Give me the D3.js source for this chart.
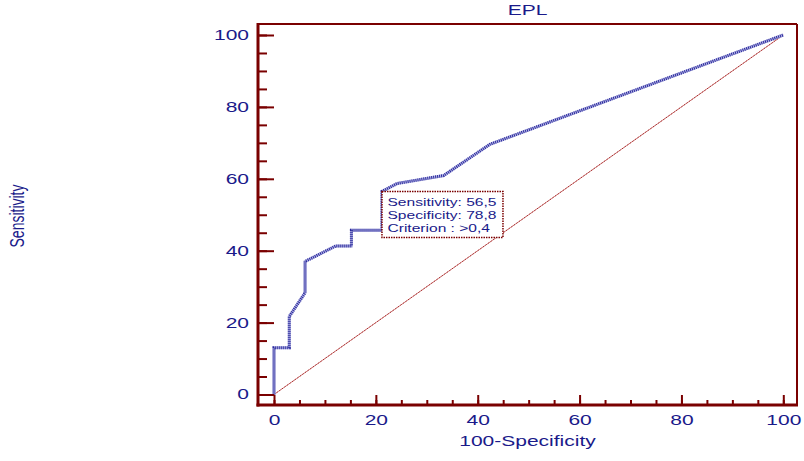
<!DOCTYPE html>
<html>
<head>
<meta charset="utf-8">
<script src="https://cdn.jsdelivr.net/npm/d3@7"></script>
<style>
  body { margin: 0; background: #fff; }
  svg { display: block; font-family: "Liberation Sans", Arial, sans-serif; }
</style>
</head>
<body>
<div id="chart"></div>
<script>
// ROC curve points (100-Specificity, Sensitivity)
const fpr = [0, 0, 3.0, 3.0, 6.1, 6.1, 12.1, 15.2, 15.2, 21.2, 21.2, 24.2, 33.3, 42.4, 100];
const tpr = [0, 13.0, 13.0, 21.7, 28.3, 37.0, 41.3, 41.3, 45.7, 45.7, 56.5, 58.7, 60.9, 69.6, 100];
const majorTicks = [0, 20, 40, 60, 80, 100];
const minorTicks = d3.range(0, 101, 5);
const criterion = { fpr: 21.2, tpr: 56.5, lines: ["Sensitivity: 56,5", "Specificity: 78,8", "Criterion : >0,4"] };
const title = "EPL";
const xTitle = "100-Specificity";
const yTitle = "Sensitivity";

const width = 804;
const height = 461;
const frame = { left: 258, right: 797, top: 24, bottom: 405 };
const navy = "#1a1a8a";
const maroon = "#7a0000";
const sx = 1.5; // the original graphic is stretched horizontally

const svg = d3.select("#chart").append("svg")
  .attr("width", width)
  .attr("height", height);

const x = d3.scaleLinear().domain([0, 100]).range([274, 783.3]);
const y = d3.scaleLinear().domain([0, 100]).range([394.5, 35]);

// diagonal reference line
svg.append("line")
  .attr("x1", x(0)).attr("y1", y(0))
  .attr("x2", x(100)).attr("y2", y(100))
  .attr("stroke", "#e0a0a0")
  .attr("stroke-width", 1);
svg.append("line")
  .attr("x1", x(0)).attr("y1", y(0))
  .attr("x2", x(100)).attr("y2", y(100))
  .attr("stroke", "#9a1010")
  .attr("stroke-width", 1)
  .attr("stroke-dasharray", "1,1");

// ROC curve
const pts = fpr.map((f, i) => [f, tpr[i]]);
const line = d3.line().x(d => x(d[0])).y(d => y(d[1]));
svg.append("path")
  .datum(pts)
  .attr("fill", "none")
  .attr("stroke", "#b8b8e6")
  .attr("stroke-width", 3)
  .attr("d", line);
svg.append("path")
  .datum(pts)
  .attr("fill", "none")
  .attr("stroke", "#2a2a9c")
  .attr("stroke-width", 3)
  .attr("stroke-dasharray", "1,1")
  .attr("d", line);

// axes: minor and major ticks pointing inward
const xAxisG = svg.append("g").attr("transform", `translate(0,${frame.bottom})`);
xAxisG.append("g")
  .call(d3.axisBottom(x).tickValues(minorTicks).tickSize(-5).tickFormat(""))
  .call(g => g.select(".domain").remove());
xAxisG.append("g")
  .call(d3.axisBottom(x).tickValues(majorTicks).tickSize(-10).tickPadding(10))
  .call(g => g.select(".domain").remove());
xAxisG.selectAll("line").attr("stroke", maroon).attr("stroke-width", 2);
xAxisG.selectAll("text")
  .attr("fill", navy)
  .attr("font-size", 14)
  .attr("transform", `scale(${sx},1)`);

const yAxisG = svg.append("g").attr("transform", `translate(${frame.left},0)`);
yAxisG.append("g")
  .call(d3.axisLeft(y).tickValues(minorTicks).tickSize(-9).tickFormat(""))
  .call(g => g.select(".domain").remove());
yAxisG.append("g")
  .call(d3.axisLeft(y).tickValues(majorTicks).tickSize(-16).tickPadding(6))
  .call(g => g.select(".domain").remove());
yAxisG.selectAll("line").attr("stroke", maroon).attr("stroke-width", 2);
yAxisG.selectAll("text")
  .attr("fill", navy)
  .attr("font-size", 14)
  .attr("transform", `scale(${sx},1)`);

// frame
svg.append("line")
  .attr("x1", frame.left).attr("x2", frame.right)
  .attr("y1", frame.top).attr("y2", frame.top)
  .attr("stroke", maroon).attr("stroke-width", 2);
svg.append("line")
  .attr("x1", frame.right).attr("x2", frame.right)
  .attr("y1", frame.top).attr("y2", frame.bottom)
  .attr("stroke", maroon).attr("stroke-width", 2);
svg.append("line")
  .attr("x1", frame.left).attr("x2", frame.left)
  .attr("y1", frame.top - 1).attr("y2", frame.bottom + 1.5)
  .attr("stroke", maroon).attr("stroke-width", 3);
svg.append("line")
  .attr("x1", frame.left - 1.5).attr("x2", frame.right + 1)
  .attr("y1", frame.bottom).attr("y2", frame.bottom)
  .attr("stroke", maroon).attr("stroke-width", 3);

// criterion box
const bx = x(criterion.fpr), by = y(criterion.tpr);
svg.append("rect")
  .attr("x", bx).attr("y", by)
  .attr("width", 121).attr("height", 46)
  .attr("fill", "#fff")
  .attr("stroke", maroon)
  .attr("stroke-width", 1.5)
  .attr("stroke-dasharray", "1.5,1");
criterion.lines.forEach((t, i) => {
  svg.append("text")
    .attr("transform", `translate(${bx + 5.5},${by + 14.5 + i * 13.3}) scale(1.47,1)`)
    .attr("fill", navy)
    .attr("font-size", 10.6)
    .text(t);
});

// titles
svg.append("text")
  .attr("transform", `translate(${(frame.left + frame.right) / 2},15) scale(${sx},1)`)
  .attr("text-anchor", "middle")
  .attr("fill", navy)
  .attr("font-size", 14)
  .text(title);

svg.append("text")
  .attr("transform", `translate(${(frame.left + frame.right) / 2},446) scale(${sx},1)`)
  .attr("text-anchor", "middle")
  .attr("fill", navy)
  .attr("font-size", 14)
  .text(xTitle);

svg.append("text")
  .attr("transform", `translate(24,216) scale(${sx},1) rotate(-90)`)
  .attr("text-anchor", "middle")
  .attr("fill", navy)
  .attr("font-size", 14)
  .text(yTitle);
</script>
</body>
</html>
